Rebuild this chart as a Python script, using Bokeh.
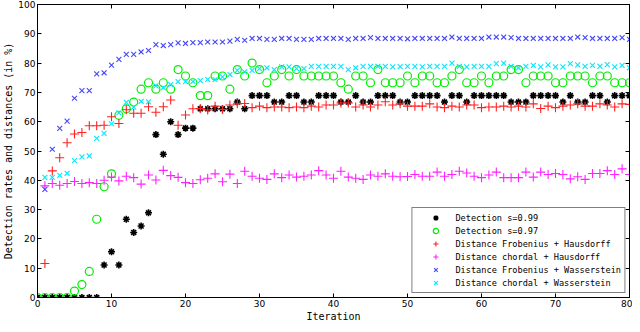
from bokeh.plotting import figure
from bokeh.models import LinearAxis, FixedTicker, Range1d
from bokeh.embed import file_html
from bokeh.resources import INLINE

# ---- data ----
iter_all = list(range(0, 81))
iter_dist = list(range(1, 81))

det_099 = [0, 0, 0, 0, 0, 0, 0, 0, 0, 11.1, 15.6, 11.1, 26.7, 22.2, 24.4, 28.9,
           55.6, 48.9, 60.0, 55.6, 57.8, 57.8, 64.4, 64.4, 64.4, 64.4, 64.4, 66.7,
           64.4, 68.9, 68.9, 68.9, 66.7, 66.7, 68.9, 68.9, 66.7, 66.7, 68.9, 68.9,
           68.9, 66.7, 66.7, 68.9, 66.7, 66.7, 68.9, 68.9, 68.9, 66.7, 66.7, 68.9,
           68.9, 68.9, 68.9, 66.7, 68.9, 68.9, 66.7, 68.9, 68.9, 68.9, 68.9, 68.9,
           66.7, 66.7, 66.7, 68.9, 68.9, 68.9, 68.9, 66.7, 68.9, 66.7, 66.7, 68.9,
           68.9, 66.7, 68.9, 68.9, 68.9]

det_097 = [0, 0, 0, 0, 0, 2.2, 4.4, 8.9, 26.7, 37.8, 42.2, 62.2, 64.4, 66.7, 71.1,
           73.3, 71.1, 73.3, 71.1, 77.8, 75.6, 73.3, 68.9, 68.9, 75.6, 75.6, 71.1,
           77.8, 75.6, 80.0, 77.8, 73.3, 75.6, 77.8, 75.6, 77.8, 75.6, 75.6, 75.6,
           75.6, 75.6, 73.3, 71.1, 75.6, 75.6, 73.3, 77.8, 73.3, 73.3, 73.3, 75.6,
           73.3, 75.6, 75.6, 73.3, 73.3, 75.6, 77.8, 73.3, 73.3, 75.6, 73.3, 75.6,
           75.6, 77.8, 77.8, 73.3, 75.6, 75.6, 75.6, 73.3, 73.3, 75.6, 75.6, 75.6,
           73.3, 75.6, 75.6, 73.3, 73.3, 73.3]

frob_haus = [11.6, 43.2, 47.7, 52.8, 55.8, 56.3, 58.6, 58.6, 58.8, 61.7, 59.4, 64.1,
             62.9, 62.9, 65.1, 63.2, 65.1, 67.4, 58.8, 62.3, 64.4, 64.5, 64.0, 65.3,
             64.2, 65.7, 66.1, 66.2, 64.8, 65.3, 64.8, 65.0, 65.0, 64.8, 65.0, 64.8,
             65.3, 65.0, 65.7, 65.7, 66.4, 66.4, 65.0, 65.7, 65.0, 65.7, 66.8, 65.7,
             66.1, 65.3, 65.3, 65.3, 66.1, 65.0, 64.8, 65.3, 65.0, 65.7, 65.7, 64.8,
             65.0, 65.0, 65.3, 65.0, 65.3, 65.0, 66.1, 64.5, 65.3, 64.8, 65.3, 65.7,
             66.1, 65.3, 65.3, 66.1, 65.7, 65.0, 66.1, 65.9]

chord_haus = [38.1, 38.9, 38.3, 38.9, 39.6, 38.9, 39.2, 38.9, 40.0, 41.1, 39.8, 41.4,
              40.9, 38.7, 41.8, 40.1, 43.4, 41.6, 41.0, 39.2, 38.9, 40.2, 40.7, 42.2,
              39.5, 42.1, 38.9, 43.1, 41.4, 40.7, 40.3, 42.2, 40.9, 41.8, 41.1, 41.4,
              41.8, 43.3, 41.8, 40.7, 43.1, 41.1, 40.7, 40.3, 41.8, 41.4, 42.2, 41.4,
              41.2, 41.3, 42.0, 41.4, 41.4, 42.8, 41.4, 42.0, 43.1, 42.5, 41.4, 40.9,
              41.8, 42.8, 40.9, 40.9, 40.9, 42.8, 41.1, 42.8, 42.0, 42.3, 42.0, 40.5,
              41.2, 40.3, 42.3, 42.3, 43.3, 42.0, 43.9, 42.0]

frob_wass = [36.9, 50.6, 57.7, 60.2, 68.0, 70.6, 70.6, 76.3, 76.7, 79.3, 81.3, 83.0,
             83.0, 83.8, 84.3, 86.3, 86.0, 86.3, 86.9, 86.7, 87.0, 87.0, 87.2, 87.2,
             87.2, 87.5, 88.1, 87.8, 88.4, 88.4, 88.1, 88.1, 88.4, 88.4, 88.1, 88.1,
             88.1, 88.4, 88.4, 88.4, 88.4, 88.1, 88.4, 88.4, 88.7, 88.4, 88.4, 88.4,
             88.4, 88.3, 88.4, 88.4, 88.4, 88.4, 88.4, 88.9, 88.4, 88.4, 88.4, 88.4,
             88.9, 88.9, 88.9, 88.7, 88.4, 88.4, 88.4, 88.4, 88.4, 88.4, 88.4, 88.4,
             88.9, 88.7, 88.4, 88.4, 88.4, 88.4, 88.7, 88.1]

chord_wass = [41.0, 41.0, 41.7, 42.4, 46.7, 48.0, 48.3, 54.3, 56.0, 59.3, 63.0, 66.6,
              65.0, 66.9, 66.8, 72.2, 71.6, 72.7, 73.7, 73.7, 73.7, 74.0, 74.4, 74.4,
              75.3, 76.1, 77.5, 77.0, 77.5, 78.1, 78.4, 77.8, 78.7, 78.7, 78.1, 78.1,
              78.9, 78.9, 78.9, 78.9, 78.9, 77.8, 78.4, 78.9, 78.9, 78.9, 78.9, 78.7,
              78.8, 78.9, 78.9, 78.7, 78.9, 78.9, 78.9, 80.0, 78.9, 78.7, 78.9, 78.9,
              78.9, 79.8, 80.0, 78.9, 78.4, 78.9, 79.2, 78.7, 79.4, 78.7, 78.7, 79.8,
              79.4, 78.9, 79.2, 78.9, 79.5, 78.7, 79.2, 78.4]

x_ticks = [0, 10, 20, 30, 40, 50, 60, 70, 80]
y_ticks = [0, 10, 20, 30, 40, 50, 60, 70, 80, 90, 100]

labels = ["Detection s=0.99", "Detection s=0.97",
          "Distance Frobenius + Hausdorff", "Distance chordal + Hausdorff",
          "Distance Frobenius + Wasserstein", "Distance chordal + Wasserstein"]

# ---- figure ----
p = figure(width=632, height=324, output_backend="svg", toolbar_location=None,
           x_range=Range1d(0, 80), y_range=Range1d(0, 100),
           min_border_left=33, min_border_right=3, min_border_top=4, min_border_bottom=0)
p.background_fill_color = "white"
p.border_fill_color = "white"
p.outline_line_color = "black"
p.xgrid.visible = False
p.ygrid.visible = False

tick_font = "DejaVu Sans"
lab_font = "DejaVu Sans Mono"

for ax in [p.xaxis[0], p.yaxis[0]]:
    ax.major_tick_in = 4
    ax.major_tick_out = 0
    ax.minor_tick_line_color = None
    ax.axis_line_color = "black"
    ax.major_tick_line_color = "black"
    ax.major_label_text_font = tick_font
    ax.major_label_text_font_size = "9px"
    ax.major_label_text_color = "black"
    ax.axis_label_text_font = lab_font
    ax.axis_label_text_font_size = "10px"
    ax.axis_label_text_font_style = "normal"
    ax.axis_label_text_color = "black"
    ax.major_label_standoff = 2
    ax.axis_label_standoff = 1

p.xaxis[0].ticker = FixedTicker(ticks=x_ticks)
p.yaxis[0].ticker = FixedTicker(ticks=y_ticks)
p.xaxis[0].axis_label = "Iteration"
p.yaxis[0].axis_label = "Detection rates and distances (in %)"

# mirrored tick axes on top and right (ticks only, labels not drawn)
top = LinearAxis(ticker=FixedTicker(ticks=x_ticks))
right = LinearAxis(ticker=FixedTicker(ticks=y_ticks))
for ax in [top, right]:
    ax.major_tick_in = 4
    ax.major_tick_out = 0
    ax.minor_tick_line_color = None
    ax.major_label_text_font_size = "1px"
    ax.major_label_text_color = None
    ax.major_label_standoff = 0
    ax.axis_line_color = "black"
    ax.major_tick_line_color = "black"
p.add_layout(top, "above")
p.add_layout(right, "right")

# ---- series ----
p.scatter(iter_all, det_099, marker="asterisk", size=7, line_color="black",
          line_width=1.6, legend_label=labels[0])
p.scatter(iter_all, det_097, marker="circle", size=8, line_color="#00ee00",
          fill_color=None, line_width=1.2, legend_label=labels[1])
p.scatter(iter_dist, frob_haus, marker="cross", size=9, line_color="#ff2020",
          line_width=1.1, legend_label=labels[2])
p.scatter(iter_dist, chord_haus, marker="cross", size=9, line_color="#ff20ff",
          line_width=1.1, legend_label=labels[3])
p.scatter(iter_dist, frob_wass, marker="x", size=7, line_color="#4646ff",
          line_width=1.1, legend_label=labels[4])
p.scatter(iter_dist, chord_wass, marker="x", size=7, line_color="#00e8ff",
          line_width=1.1, legend_label=labels[5])

lg = p.legend[0]
lg.location = "bottom_right"
lg.margin = 4
lg.padding = 3
lg.spacing = 0
lg.glyph_width = 40
lg.glyph_height = 13
lg.label_height = 13
lg.label_standoff = 0
lg.label_text_font = lab_font
lg.label_text_font_size = "8.6px"
lg.label_text_color = "black"
lg.border_line_color = "black"
lg.border_line_width = 1
lg.background_fill_color = "white"
lg.background_fill_alpha = 1.0

open("out.html", "w").write(file_html(p, INLINE))
